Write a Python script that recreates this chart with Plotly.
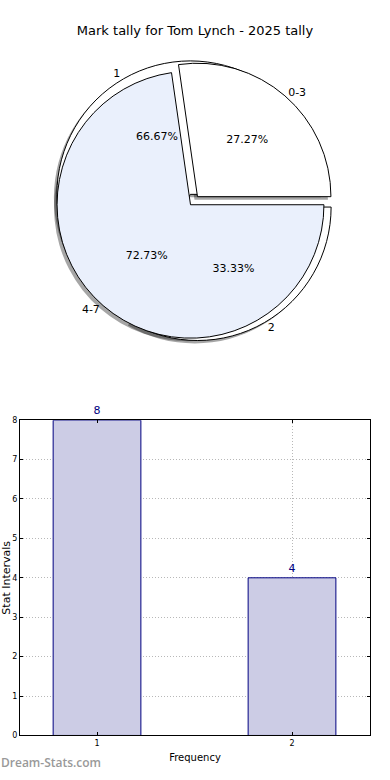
import plotly.graph_objects as go

# ---- data ----
title_text = "Mark tally for Tom Lynch - 2025 tally"
range_labels = ["0-3", "4-7"]
range_values = [3, 8]
freq_labels = ["1", "2"]
freq_values = [8, 4]
bar_x = [1, 2]
bar_y = [8, 4]

W, H = 390, 780
R = 135
CX, CY = 194, 199

def dom(pullmax, dx=0, dy=0):
    side = 2 * R * (1 + pullmax)
    cx, cy = CX + dx, CY + dy
    return dict(x=[(cx - side / 2) / W, (cx + side / 2) / W],
                y=[1 - (cy + side / 2) / H, 1 - (cy - side / 2) / H])

def rot(vals):
    # plotly's counterclockwise pies start after the first slice; start first slice at 3 o'clock
    return 90 - 360.0 * vals[0] / sum(vals)

PA = [0.04, 0.04]
PB = [0.055, 0.055]
common = dict(sort=False, direction="counterclockwise",
              showlegend=False, hoverinfo="skip")
clear = "rgba(0,0,0,0)"
pie_font = dict(color="black", size=11, family="DejaVu Sans")

fig = go.Figure()
# shadows
fig.add_trace(go.Pie(labels=freq_labels, values=freq_values, pull=PB, domain=dom(max(PB), -3, 3),
                     rotation=rot(freq_values),
                     marker=dict(colors=["rgba(0,0,0,0.35)"] * 2, line=dict(width=0)),
                     textinfo="none", **common))
fig.add_trace(go.Pie(labels=range_labels, values=range_values, pull=PA, domain=dom(max(PA), -3, 3),
                     rotation=rot(range_values),
                     marker=dict(colors=["rgba(0,0,0,0.35)"] * 2, line=dict(width=0)),
                     textinfo="none", **common))
# second pie outlines (underneath)
fig.add_trace(go.Pie(labels=freq_labels, values=freq_values, pull=PB, domain=dom(max(PB)),
                     rotation=rot(freq_values),
                     marker=dict(colors=["white", "white"], line=dict(color="black", width=1)),
                     textinfo="none", **common))
# first pie fills
fig.add_trace(go.Pie(labels=range_labels, values=range_values, pull=PA, domain=dom(max(PA)),
                     rotation=rot(range_values),
                     marker=dict(colors=["white", "#EAF0FC"], line=dict(color="black", width=1)),
                     texttemplate="%{percent:.2%}", textposition="inside",
                     insidetextorientation="horizontal", insidetextfont=pie_font,
                     **common))
# second pie percentages
fig.add_trace(go.Pie(labels=freq_labels, values=freq_values, pull=PB, domain=dom(max(PB)),
                     rotation=rot(freq_values),
                     marker=dict(colors=[clear, clear], line=dict(width=0)),
                     texttemplate="%{percent:.2%}", textposition="inside",
                     insidetextorientation="horizontal", insidetextfont=pie_font,
                     **common))
# outer labels
for labs, vals, pl in [(range_labels, range_values, PA), (freq_labels, freq_values, PB)]:
    fig.add_trace(go.Pie(labels=labs, values=vals, pull=pl, domain=dom(max(pl)),
                         rotation=rot(vals),
                         marker=dict(colors=[clear, clear], line=dict(width=0)),
                         texttemplate="%{label}", textposition="outside",
                         outsidetextfont=pie_font, **common))

# bar chart
fig.add_trace(go.Bar(x=bar_x, y=bar_y, width=0.45, xaxis="x", yaxis="y",
                     marker=dict(color="#CCCCE5", line=dict(color="#000080", width=1)),
                     text=[str(v) for v in bar_y], textposition="outside",
                     textfont=dict(color="#000080", size=11, family="DejaVu Sans"),
                     cliponaxis=False, showlegend=False, hoverinfo="skip"))

axis_common = dict(showline=True, linecolor="black", linewidth=1, mirror="ticks",
                   ticks="inside", ticklen=3, tickcolor="black",
                   showgrid=True, gridcolor="#b8b8b8", griddash="1px,2px", gridwidth=1,
                   zeroline=False, tickfont=dict(size=8, family="DejaVu Sans", color="black"))

fig.update_layout(
    width=W, height=H,
    margin=dict(l=0, r=0, t=0, b=0),
    paper_bgcolor="white", plot_bgcolor="white",
    font=dict(family="DejaVu Sans", color="black"),
    title=dict(text=title_text, x=0.5, xanchor="center", y=1 - 30 / H, yanchor="middle",
               font=dict(size=13, family="DejaVu Sans", color="black")),
    xaxis=dict(domain=[20 / W, 370 / W], range=[0.605, 2.4], tickvals=[1, 2], ticktext=["1", "2"],
               title=dict(text="Frequency", font=dict(size=10), standoff=6), **axis_common),
    yaxis=dict(domain=[40 / H, 359 / H], range=[0, 8], tickvals=list(range(0, 9)),
               title=dict(text="Stat Intervals", font=dict(size=11), standoff=2), **axis_common),
    annotations=[dict(text="Dream-Stats.com", x=0, y=0, xref="paper", yref="paper",
                      xanchor="left", yanchor="bottom", showarrow=False, yshift=2, xshift=-1,
                      font=dict(size=12, color="#999999", family="Open Sans", weight=600))],
)

fig.write_html("out.html", config={"displayModeBar": False},
               post_script="document.body.style.margin='0';")
